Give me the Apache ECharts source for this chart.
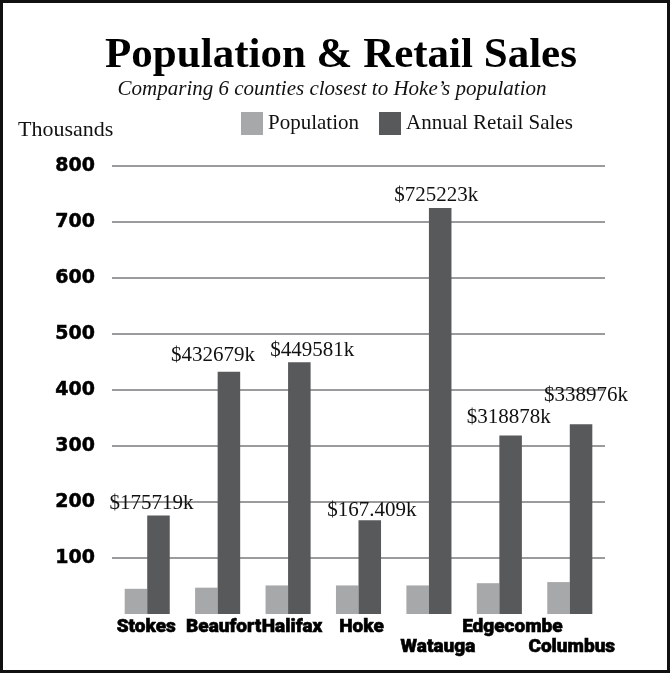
<!DOCTYPE html>
<html>
<head>
<meta charset="utf-8">
<script src="https://cdn.jsdelivr.net/npm/echarts@6/dist/echarts.min.js"></script>
<style>
html,body{margin:0;padding:0;background:#fff;}
#chart{width:670px;height:673px;}
</style>
</head>
<body>
<div id="chart"></div>
<script>
// ---- data ----
const counties = ['Stokes', 'Beaufort', 'Halifax', 'Hoke', 'Watauga', 'Edgecombe', 'Columbus'];
const population = [45, 47, 51, 51, 51, 55, 57];              // thousands
const retailSales = [175.719, 432.679, 449.581, 167.409, 725.223, 318.878, 338.976];
const salesLabels = ['$175719k', '$432679k', '$449581k', '$167.409k', '$725223k', '$318878k', '$338976k'];
const yTicks = [100, 200, 300, 400, 500, 600, 700, 800];

// ---- layout tweaks (not data) ----
const labelNudge = [[-7, 0], [-16, -4], [13, 1], [2, 3], [-4, 0], [-2, -5], [5, -16]];
const catRow = [0, 0, 0, 0, 1, 0, 1];
const catDx = [-1, 6, 4, 3, 9, 13, 2];

const serif = '"Liberation Serif", "DejaVu Serif", serif';
const rich = {};
counties.forEach((c, i) => {
  const dx = catDx[i];
  rich['c' + i] = {
    fontFamily: 'Roboto', fontWeight: 900, fontSize: 19, color: '#000',
    textBorderColor: '#000', textBorderWidth: 0.6,
    padding: [catRow[i] * 20, dx < 0 ? -2 * dx : 0, 0, dx > 0 ? 2 * dx : 0]
  };
});

const chart = echarts.init(document.getElementById('chart'), null, {renderer: 'canvas'});
chart.setOption({
  animation: false,
  backgroundColor: '#fff',
  title: [{
    text: 'Population & Retail Sales',
    left: 336, textAlign: 'center', top: 29,
    textStyle: {fontFamily: serif, fontWeight: 'bold', fontSize: 43, color: '#000'}
  }, {
    text: 'Comparing 6 counties closest to Hoke\u2019s population',
    left: 327, textAlign: 'center', top: 74,
    textStyle: {fontFamily: serif, fontStyle: 'italic', fontWeight: 'normal', fontSize: 21, color: '#111'}
  }],
  legend: {
    left: 236, top: 107,
    itemWidth: 22, itemHeight: 23, itemGap: 20,
    icon: 'rect',
    textStyle: {fontFamily: serif, fontSize: 21, color: '#111'},
    data: ['Population', 'Annual Retail Sales']
  },
  graphic: [{
    type: 'text', left: 18, top: 119,
    style: {text: 'Thousands', font: '22px "Liberation Serif", serif', fill: '#111'}
  }, {
    type: 'rect', shape: {x: 1.5, y: 1.5, width: 667, height: 670},
    style: {fill: 'none', stroke: '#111', lineWidth: 3}, silent: true
  }],
  grid: {left: 112, right: 65, top: 166, bottom: 59, containLabel: false},
  xAxis: {
    type: 'category', data: counties,
    axisLine: {show: false}, axisTick: {show: false},
    axisLabel: {
      interval: 0, margin: 4,
      formatter: (v, i) => '{c' + i + '|' + v + '}',
      rich: rich
    }
  },
  yAxis: {
    type: 'value', min: 0, max: 800, interval: 100,
    axisLine: {show: false}, axisTick: {show: false},
    axisLabel: {
      showMinLabel: false, margin: 17,
      fontFamily: '"DejaVu Sans", sans-serif', fontWeight: 'bold', fontSize: 19, color: '#000',
      textBorderColor: '#000', textBorderWidth: 0.5,
      formatter: v => (yTicks.indexOf(v) >= 0 ? String(v) : '')
    },
    splitLine: {show: true, showMinLine: false, lineStyle: {color: '#9b9b9d', width: 2}}
  },
  series: [{
    name: 'Population', type: 'bar', data: population,
    barGap: 0, barCategoryGap: '36%',
    itemStyle: {color: '#a7a8aa'}
  }, {
    name: 'Annual Retail Sales', type: 'bar',
    data: retailSales.map((v, i) => ({
      value: v,
      label: {offset: labelNudge[i]}
    })),
    barGap: 0, barCategoryGap: '36%',
    itemStyle: {color: '#58595b'},
    label: {
      show: true, position: 'top', distance: 2,
      fontFamily: serif, fontSize: 21, color: '#111',
      formatter: p => salesLabels[p.dataIndex]
    }
  }]
});
</script>
</body>
</html>
